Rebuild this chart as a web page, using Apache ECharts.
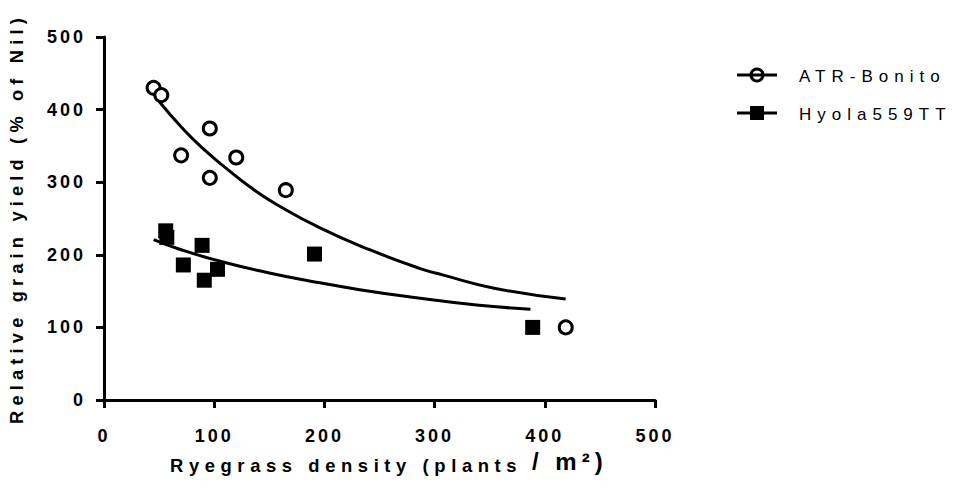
<!DOCTYPE html>
<html><head><meta charset="utf-8">
<script src="https://cdn.jsdelivr.net/npm/echarts@6/dist/echarts.min.js"></script>
<style>
html,body{margin:0;padding:0;background:#fff}
#chart{width:954px;height:498px}
#chart text[style*="18px"]{letter-spacing:3px}
#chart text[style*="18.2px"]{letter-spacing:5.2px}
#chart text[style*="18.4px"]{letter-spacing:5.6px}
#chart text[style*="24px"]{letter-spacing:5px}
#chart text[style*="17px"]{letter-spacing:6px}
</style></head><body><div id="chart"></div>
<script>
// Observed points
const atrX = [45, 52, 96, 70, 120, 96, 165, 419];
const atrY = [430, 420, 374, 337, 334, 306, 289, 100];
const hyX = [56, 57, 89, 72, 103, 91, 191, 389];
const hyY = [233, 224, 213, 186, 180, 165, 201, 100];
// Fitted curves
const atrFitX = [48, 72, 93, 111, 132, 157, 196, 241, 287, 308, 354, 419];
const atrFitY = [415, 373, 342, 319, 294, 269, 237, 207, 181, 172, 154, 139];
const hyFitX = [45, 70, 108, 150, 190, 232, 278, 338, 387];
const hyFitY = [221, 207, 190, 175, 163, 152, 142, 131, 125];
const seriesNames = ['ATR-Bonito', 'Hyola559TT'];
const xTicks = [0, 100, 200, 300, 400, 500];
const yTicks = [0, 100, 200, 300, 400, 500];

const zip = (xs, ys) => xs.map((x, i) => [x, ys[i]]);
const FONT = 'Liberation Sans';

// legend key drawings (line with open circle / line with filled square)
const keyL = 737, keyR = 777, keyC = 757, row1 = 75, row2 = 113;

const chart = echarts.init(document.getElementById('chart'), null, {renderer: 'svg'});
chart.setOption({
  animation: false,
  backgroundColor: '#fff',
  grid: {left: 104, right: 299, top: 37, bottom: 98, containLabel: false},
  legend: {
    data: seriesNames,
    orient: 'vertical',
    left: 732, top: 63,
    itemWidth: 40, itemHeight: 15, itemGap: 21,
    itemStyle: {opacity: 0}, lineStyle: {opacity: 0},
    textStyle: {fontFamily: FONT, fontSize: 17, color: '#000', padding: [0, 0, 0, 16]}
  },
  xAxis: {
    type: 'value', min: xTicks[0], max: xTicks[xTicks.length - 1], interval: 100,
    splitLine: {show: false},
    axisLine: {lineStyle: {color: '#000', width: 3}},
    axisTick: {length: 8, lineStyle: {color: '#000', width: 3}},
    axisLabel: {margin: 27, color: '#000', fontFamily: FONT, fontWeight: 'bold', fontSize: 18}
  },
  yAxis: {
    type: 'value', min: yTicks[0], max: yTicks[yTicks.length - 1], interval: 100,
    name: 'Relative grain yield (% of Nil)',
    nameLocation: 'middle', nameGap: 78,
    nameTextStyle: {color: '#000', fontFamily: FONT, fontWeight: 'bold', fontSize: 18.2},
    splitLine: {show: false},
    axisLine: {lineStyle: {color: '#000', width: 3}},
    axisTick: {length: 8, lineStyle: {color: '#000', width: 3}},
    axisLabel: {margin: 18, color: '#000', fontFamily: FONT, fontWeight: 'bold', fontSize: 18}
  },
  graphic: [
    {type: 'text', left: 170, top: 456, style: {text: 'Ryegrass density (plants', font: 'bold 18.4px "Liberation Sans"', fill: '#000'}},
    {type: 'text', left: 532, top: 449, style: {text: '/ m²)', font: 'bold 24px "Liberation Sans"', fill: '#000'}},
    {type: 'line', shape: {x1: keyL, y1: row1, x2: keyR, y2: row1}, style: {stroke: '#000', lineWidth: 3}, z: 100},
    {type: 'circle', shape: {cx: keyC, cy: row1, r: 6}, style: {fill: 'none', stroke: '#000', lineWidth: 3}, z: 101},
    {type: 'line', shape: {x1: keyL, y1: row2, x2: keyR, y2: row2}, style: {stroke: '#000', lineWidth: 3}, z: 100},
    {type: 'rect', shape: {x: keyC - 7, y: row2 - 7, width: 14, height: 14}, style: {fill: '#000'}, z: 101}
  ],
  series: [
    {name: seriesNames[0], type: 'line', data: zip(atrFitX, atrFitY), smooth: true, showSymbol: false,
     symbol: 'emptyCircle', lineStyle: {color: '#000', width: 3}, itemStyle: {color: '#000'}, z: 2},
    {name: seriesNames[1], type: 'line', data: zip(hyFitX, hyFitY), smooth: true, showSymbol: false,
     symbol: 'rect', lineStyle: {color: '#000', width: 3}, itemStyle: {color: '#000'}, z: 2},
    {name: seriesNames[0], type: 'scatter', data: zip(atrX, atrY), symbol: 'circle', symbolSize: 13,
     itemStyle: {color: '#fff', borderColor: '#000', borderWidth: 3, opacity: 1}, z: 3},
    {name: seriesNames[1], type: 'scatter', data: zip(hyX, hyY), symbol: 'rect', symbolSize: 15,
     itemStyle: {color: '#000', opacity: 1}, z: 3}
  ]
});
</script></body></html>
